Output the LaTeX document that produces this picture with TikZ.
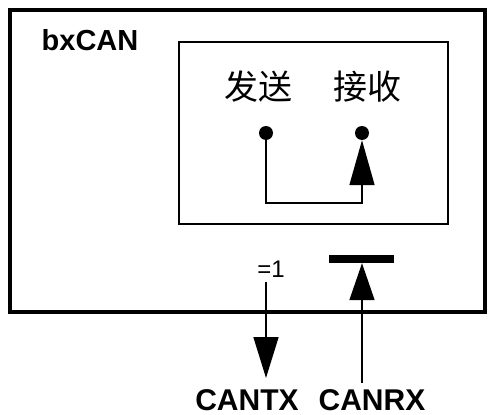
\documentclass[tikz,border=0pt]{standalone}
\usepackage{fontspec}
\setmainfont{Liberation Sans}
\newfontfamily\cjkfont{Noto Sans CJK SC}
\usetikzlibrary{arrows.meta,positioning}
\tikzset{
  bigarrow/.style={-{Triangle[length=#1,width=25pt]}, line width=1.6pt},
  bigarrow/.default=40pt,
  port/.style={circle, fill=black, inner sep=0pt, minimum size=14pt},
  bartip/.style={rectangle, fill=black, inner sep=0pt, minimum width=65pt, minimum height=8pt},
  boldtext/.style={font=\fontsize{29}{35}\selectfont\bfseries, inner sep=0pt, anchor=base},
  pintext/.style={font=\fontsize{30}{36}\selectfont\bfseries, inner sep=0pt, text depth=0pt, anchor=base},
  cjktext/.style={font=\cjkfont\fontsize{34}{40}\selectfont, inner sep=0pt},
  gatetext/.style={font=\fontsize{24}{28}\selectfont, inner sep=0pt, anchor=base}
}
\begin{document}
\begin{tikzpicture}[x=1pt, y=-1pt]
      \useasboundingbox (0,0) rectangle (491,415);

      % outer box and filter box
      \draw[line width=4pt] (10,9.5) rectangle (485,312);
      \draw[line width=2pt] (178.5,42) rectangle (447.5,224);

      \node[boldtext] (can) at (90,50) {bxCAN};
      \node[cjktext] (sendtxt) at (258,87) {发送};
      \node[cjktext] (recvtxt) at (367,87) {接收};

      % loop back
      \node[port] (send) at (266,133) {};
      \node[port] (recv) at (362,133) {};
      \coordinate (bend) at (314,203);
      \draw[bigarrow=45pt, line width=1.6pt] (send) |- (bend) -| (recv);

      % transmit pin
      \node[gatetext] (xor) at (271,277) {=1};
      \coordinate (txin) at (266,282);
      \coordinate (txout) at (266,378);
      \node[pintext] (cantx) at (247,410) {CANTX};
      \draw[bigarrow=41pt] (txin) -- (txout);

      % receive pin
      \node[bartip] (rxbar) at (361,259) {};
      \coordinate (rxin) at (362,383);
      \node[pintext] (canrx) at (372,410) {CANRX};
      \draw[bigarrow=37pt] (rxin) -- (rxin |- rxbar.south);
\end{tikzpicture}
\end{document}
